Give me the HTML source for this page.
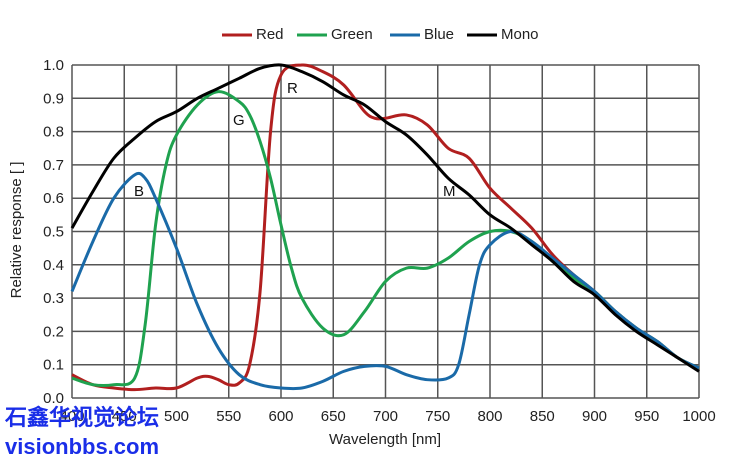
<!DOCTYPE html>
<html><head><meta charset="utf-8"><style>
body{margin:0;background:#fff;width:729px;height:459px;overflow:hidden}
svg text{font-family:"Liberation Sans",sans-serif}
</style></head><body>
<svg width="729" height="459">
<g id="grid"></g>
<g id="series"></g>
<g id="axes"></g>
<text x="385" y="444" font-size="15" text-anchor="middle" fill="#222">Wavelength [nm]</text>
<text transform="translate(21,230) rotate(-90)" font-size="15" text-anchor="middle" fill="#222">Relative response [ ]</text>
<g font-size="15" fill="#222">
<g><line x1="222" y1="35" x2="252" y2="35" stroke="#b11f1f" stroke-width="3"/><text x="256" y="39">Red</text></g>
<g><line x1="297" y1="35" x2="327" y2="35" stroke="#1fa24f" stroke-width="3"/><text x="331" y="39">Green</text></g>
<g><line x1="390" y1="35" x2="420" y2="35" stroke="#1a6aa8" stroke-width="3"/><text x="424" y="39">Blue</text></g>
<g><line x1="467" y1="35" x2="497" y2="35" stroke="#000" stroke-width="3"/><text x="501" y="39">Mono</text></g>
</g>
<g font-size="15" fill="#111">
<text x="134" y="196">B</text>
<text x="233" y="125">G</text>
<text x="287" y="93">R</text>
<text x="443" y="196">M</text>
</g>
<text x="5" y="425" font-size="22" font-weight="bold" fill="#1a2ee8" font-family="'Noto Sans CJK SC',sans-serif">石鑫华视觉论坛</text>
<text x="5" y="454" font-size="22" font-weight="bold" fill="#1a2ee8">visionbbs.com</text>
</svg>
<script>
const xTicks=[400,450,500,550,600,650,700,750,800,850,900,950,1000];
const yTicks=[0,0.1,0.2,0.3,0.4,0.5,0.6,0.7,0.8,0.9,1.0];
const monoX=[400,420,440,460,480,500,520,540,560,580,600,620,640,660,680,700,720,740,760,780,800,820,840,860,880,900,920,940,960,980,1000];
const monoY=[0.51,0.62,0.72,0.78,0.83,0.86,0.90,0.93,0.96,0.99,1.0,0.98,0.95,0.91,0.88,0.83,0.79,0.73,0.66,0.61,0.55,0.51,0.46,0.41,0.35,0.31,0.25,0.20,0.16,0.12,0.08];
const redX=[400,420,440,460,480,500,520,530,540,550,560,570,580,590,600,620,640,660,680,690,700,720,740,760,780,800,820,840,860,880,900,920,940,960,980,1000];
const redY=[0.07,0.04,0.03,0.025,0.03,0.03,0.06,0.065,0.055,0.04,0.045,0.10,0.32,0.80,0.97,1.0,0.98,0.94,0.86,0.84,0.84,0.85,0.82,0.75,0.72,0.63,0.57,0.51,0.43,0.37,0.32,0.26,0.21,0.17,0.12,0.09];
const greenX=[400,420,440,460,470,480,490,500,520,540,560,570,580,590,600,610,620,640,660,680,700,720,740,760,780,800,820,840,860,880,900,920,940,960,980,1000];
const greenY=[0.06,0.04,0.04,0.06,0.22,0.52,0.70,0.79,0.88,0.92,0.89,0.85,0.77,0.66,0.52,0.39,0.30,0.21,0.19,0.26,0.35,0.39,0.39,0.42,0.47,0.50,0.50,0.47,0.41,0.36,0.32,0.26,0.21,0.17,0.12,0.09];
const blueX=[400,420,440,460,470,480,500,520,540,560,580,600,620,640,660,680,700,720,740,760,770,780,790,800,820,840,860,880,900,920,940,960,980,1000];
const blueY=[0.32,0.47,0.60,0.67,0.66,0.60,0.45,0.28,0.15,0.07,0.04,0.03,0.03,0.05,0.08,0.095,0.095,0.07,0.055,0.06,0.10,0.25,0.40,0.46,0.50,0.47,0.42,0.37,0.32,0.26,0.21,0.17,0.12,0.09];
const X0=72,X1=699,Y0=398,Y1=65;
const sx=v=>X0+(v-400)/600*(X1-X0);
const sy=v=>Y0-v*(Y0-Y1);
const NS='http://www.w3.org/2000/svg';
function mk(t,a,p){const e=document.createElementNS(NS,t);for(const k in a)e.setAttribute(k,a[k]);p.appendChild(e);return e;}
const grid=document.getElementById('grid'),axes=document.getElementById('axes'),ser=document.getElementById('series');
xTicks.forEach(t=>{const l=mk('line',{x1:sx(t),x2:sx(t),y1:Y1,y2:Y0,stroke:'#555','stroke-width':1.5},grid);


const tx=mk('text',{x:sx(t),y:421,'font-size':15,'text-anchor':'middle',fill:'#222'},axes);tx.textContent=t;

});
yTicks.forEach(t=>{const l=mk('line',{x1:X0,x2:X1,y1:sy(t),y2:sy(t),stroke:'#555','stroke-width':1.5},grid);


const tx=mk('text',{x:X0-8,y:sy(t)+5,'font-size':15,'text-anchor':'end',fill:'#222'},axes);tx.textContent=t.toFixed(1);

});
function path(xs,ys){const p=xs.map((x,i)=>[sx(x),sy(ys[i])]);let d='M'+p[0][0]+','+p[0][1];
for(let i=0;i<p.length-1;i++){const a=p[i-1]||p[i],b=p[i],c=p[i+1],e=p[i+2]||c;
d+=' C'+(b[0]+(c[0]-a[0])/6)+','+(b[1]+(c[1]-a[1])/6)+' '+(c[0]-(e[0]-b[0])/6)+','+(c[1]-(e[1]-b[1])/6)+' '+c[0]+','+c[1];}return d;}
[['red',redX,redY,'#b11f1f'],['green',greenX,greenY,'#1fa24f'],['blue',blueX,blueY,'#1a6aa8'],['mono',monoX,monoY,'#000']].forEach(s=>{
const e=mk('path',{d:path(s[1],s[2]),fill:'none',stroke:s[3],'stroke-width':3,'stroke-linejoin':'round'},ser);

});
</script>
</body></html>
